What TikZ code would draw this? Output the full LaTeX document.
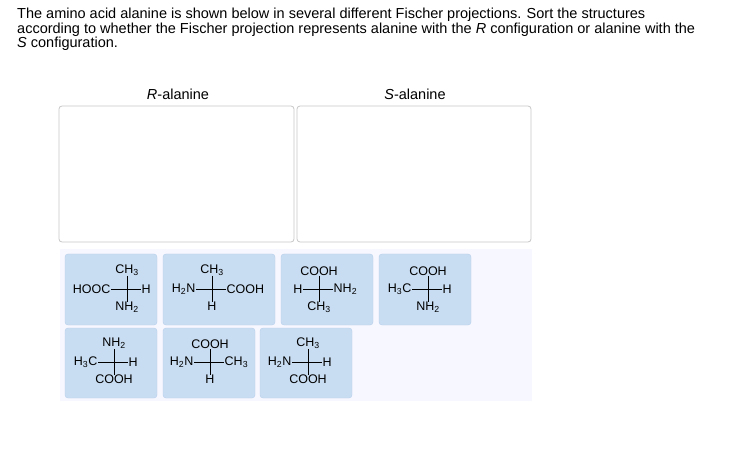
\documentclass[tikz,border=0pt]{standalone}
\usepackage{fontspec}
\setmainfont{Liberation Sans}
\usetikzlibrary{calc}
\definecolor{tilec}{HTML}{C9DDF2}
\definecolor{tiled}{HTML}{B7CFEA}
\begin{document}
\begin{tikzpicture}[x=1pt,y=-1pt,
  drop/.style={draw=black!22,rounded corners=3pt,line width=0.8pt,fill=white},
  tile/.style={fill=tilec,draw=tiled,rounded corners=3pt},
  lbl/.style={font=\fontsize{12.5}{13}\selectfont,inner sep=0.5pt},
  ttl/.style={font=\fontsize{14.5}{13.5}\selectfont}]
\useasboundingbox (0,0) rectangle (734,449);
\node[ttl,anchor=north west,align=left,inner sep=0] (title) at (17,8) {The amino acid alanine is shown below in several different Fischer projections. Sort the structures\\according to whether the Fischer projection represents alanine with the \textit{R} configuration or alanine with the\\\textit{S} configuration.};
\node[ttl] (rl) at (178,94) {\textit{R}-alanine};
\node[ttl] (sl) at (415,94) {\textit{S}-alanine};
\draw[drop] (59,106) rectangle (294,242);
\draw[drop] (297,106) rectangle (531,242);
\fill[blue!3] (60,249) rectangle (532,401);
\newcommand{\fis}[7]{%
 \coordinate (#1) at (#2,#3);
 \draw[line width=0.7pt] ($(#1)+(0,-13)$) -- ($(#1)+(0,13)$);
 \draw[line width=0.7pt] ($(#1)+(-16,0)$) -- ($(#1)+(14,0)$);
 \node[lbl,anchor=south] (#1t) at ($(#1)+(0,-12.5)$) {#4};
 \node[lbl,anchor=east] (#1l) at ($(#1)+(-16,0)$) {#5};
 \node[lbl,anchor=west] (#1r) at ($(#1)+(14,0)$) {#6};
 \node[lbl,anchor=north] (#1b) at ($(#1)+(0,12.5)$) {#7};}
\draw[tile] (65,254) rectangle (157,325);
\draw[tile] (163,254) rectangle (275,325);
\draw[tile] (281,254) rectangle (373,325);
\draw[tile] (379,254) rectangle (471,325);
\draw[tile] (65,328) rectangle (157,398);
\draw[tile] (163,328) rectangle (255,398);
\draw[tile] (260,328) rectangle (352,398);
\fis{a}{127}{289}{CH\textsubscript{3}}{HOOC}{H}{NH\textsubscript{2}}
\fis{b}{212}{289}{CH\textsubscript{3}}{H\textsubscript{2}N}{COOH}{H}
\fis{c}{319}{289}{COOH}{H}{NH\textsubscript{2}}{CH\textsubscript{3}}
\fis{d}{428}{289}{COOH}{H\textsubscript{3}C}{H}{NH\textsubscript{2}}
\fis{e}{114}{362}{NH\textsubscript{2}}{H\textsubscript{3}C}{H}{COOH}
\fis{f}{210}{362}{COOH}{H\textsubscript{2}N}{CH\textsubscript{3}}{H}
\fis{g}{308}{362}{CH\textsubscript{3}}{H\textsubscript{2}N}{H}{COOH}
\end{tikzpicture}
\end{document}
